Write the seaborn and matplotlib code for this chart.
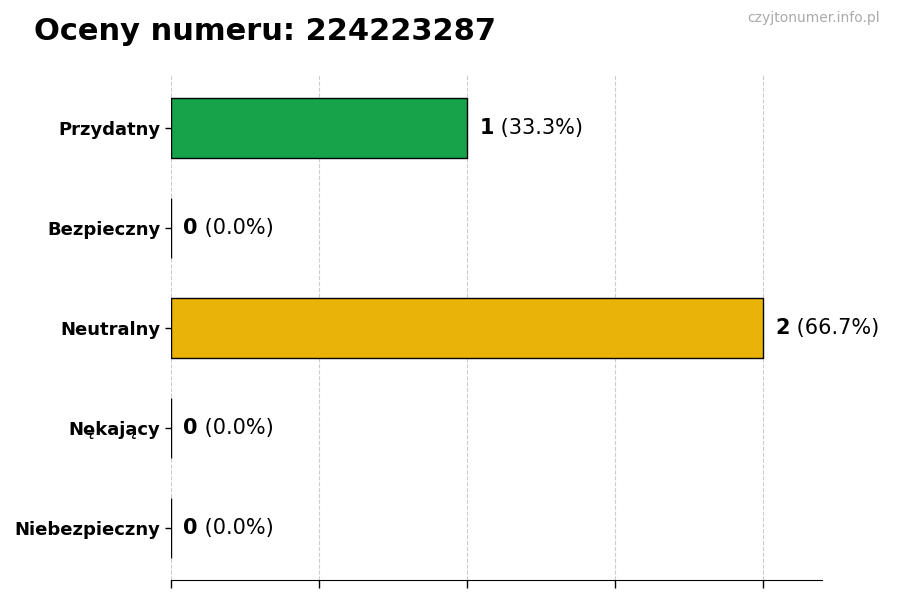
import pandas as pd
import seaborn as sns
import matplotlib.pyplot as plt

# data
categories = ['Przydatny', 'Bezpieczny', 'Neutralny', 'Nękający', 'Niebezpieczny']
counts = [1, 0, 2, 0, 0]
colors = ['#16a34a', '#3b82f6', '#eab308', '#f97316', '#dc2626']
phone = '224223287'

total = sum(counts)
df = pd.DataFrame({'kategoria': categories, 'liczba': counts})

sns.set_style('white')
plt.rcParams['text.color'] = 'black'
plt.rcParams['axes.labelcolor'] = 'black'
plt.rcParams['xtick.color'] = 'black'
plt.rcParams['ytick.color'] = 'black'

fig = plt.figure(figsize=(9, 6), dpi=100)
ax = fig.add_axes([0.19, 0.033, 0.723, 0.842])

sns.barplot(data=df, y='kategoria', x='liczba', hue='kategoria', palette=colors,
            order=categories, legend=False, width=0.6, edgecolor='black',
            linewidth=1, saturation=1, ax=ax)

ax.set_xlim(0, 2.2)
ax.set_ylim(4.52, -0.53)
ax.set_xticks([0, 0.5, 1, 1.5, 2])
ax.set_xticklabels([])
ax.tick_params(axis='x', length=6, width=1, color='black', bottom=True)
ax.tick_params(axis='y', length=4, width=1, color='black', left=True, labelsize=13)
for lab in ax.get_yticklabels():
    lab.set_fontweight('bold')
ax.set_xlabel('')
ax.set_ylabel('')
ax.grid(axis='x', linestyle='--', color='#cccccc', linewidth=0.8)
ax.set_axisbelow(True)
for side in ['top', 'right', 'left']:
    ax.spines[side].set_visible(False)
ax.spines['bottom'].set_color('black')

for i, c in enumerate(counts):
    pct = c / total * 100 if total else 0
    t = ax.annotate(f'{c}', xy=(c, i), xytext=(9, 0), textcoords='offset points',
                    va='center', ha='left', fontsize=15, fontweight='bold')
    ax.annotate(f' ({pct:.1f}%)', xy=(1, 0.5), xycoords=t, va='center', ha='left',
                fontsize=15)

fig.text(0.038, 0.948, f'Oceny numeru: {phone}', fontsize=22, fontweight='bold',
         va='center', ha='left')
fig.text(0.978, 0.97, 'czyjtonumer.info.pl', fontsize=10, color='#aaaaaa',
         va='center', ha='right')

fig.savefig('out.png', dpi=100)
